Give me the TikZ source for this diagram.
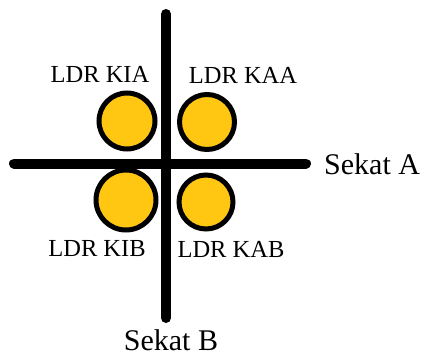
\documentclass[tikz,border=0pt]{standalone}
\usepackage{fontspec}
\setmainfont{Liberation Serif}
\usepackage{xcolor}
\usepackage{tikz}
\usetikzlibrary{positioning}

\definecolor{ldryellow}{RGB}{255,198,18}

\begin{document}
\begin{tikzpicture}[
    x=1pt, y=-1pt,
    ldr/.style={
        circle,
        draw=black,
        line width=5pt,
        fill=ldryellow,
        inner sep=0pt
    },
    ldrlabel/.style={
        font=\fontsize{24.5}{28}\selectfont,
        inner sep=0pt
    },
    sekatlabel/.style={
        font=\fontsize{30}{34}\selectfont,
        inner sep=0pt
    },
    sekat/.style={
        line width=10pt,
        line cap=round
    }
]
\useasboundingbox (0,0) rectangle (425,356);

% ==========================================================
% SEKAT (partitions)
% ==========================================================
\coordinate (atop) at (166,14);
\coordinate (abot) at (166,318);
\coordinate (bleft) at (14,163.5);
\coordinate (bright) at (306,163.5);

\draw[sekat] (bleft) -- (bright);
\draw[sekat] (atop) -- (abot);

\node[sekatlabel, anchor=west] (sekatA) at (324,164) {Sekat A};
\node[sekatlabel] (sekatB) at (171,340) {Sekat B};

% ==========================================================
% LDR SENSORS
% ==========================================================
\node[ldr, minimum size=56pt] (kia) at (127,121) {};
\node[ldr, minimum size=55pt] (kaa) at (207,122) {};
\node[ldr, minimum size=60pt] (kib) at (126,200) {};
\node[ldr, minimum size=54pt] (kab) at (206,202) {};

% ==========================================================
% LABELS
% ==========================================================
\node[ldrlabel] (lkia) at (100,74) {LDR KIA};
\node[ldrlabel] (lkaa) at (243,75) {LDR KAA};
\node[ldrlabel] (lkib) at (97,249) {LDR KIB};
\node[ldrlabel] (lkab) at (231,249) {LDR KAB};

\end{tikzpicture}
\end{document}
